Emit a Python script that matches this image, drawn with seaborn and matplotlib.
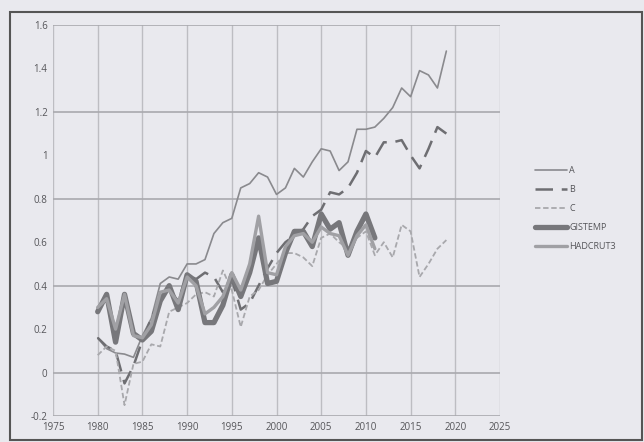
import numpy as np
import pandas as pd
import matplotlib
matplotlib.use("Agg")
import matplotlib.pyplot as plt
import seaborn as sns

years_scen = list(range(1980, 2020))
scen_a = [0.16, 0.11, 0.09, 0.085, 0.07, 0.17, 0.25, 0.41, 0.44, 0.43,
          0.50, 0.50, 0.52, 0.64, 0.69, 0.71, 0.85, 0.87, 0.92, 0.90,
          0.82, 0.85, 0.94, 0.90, 0.97, 1.03, 1.02, 0.93, 0.97, 1.12,
          1.12, 1.13, 1.17, 1.22, 1.31, 1.27, 1.39, 1.37, 1.31, 1.48]
scen_b = [0.16, 0.12, 0.10, -0.05, 0.03, 0.15, 0.25, 0.35, 0.38, 0.33,
          0.45, 0.43, 0.46, 0.44, 0.37, 0.43, 0.29, 0.32, 0.40, 0.48,
          0.55, 0.60, 0.63, 0.66, 0.72, 0.75, 0.83, 0.82, 0.85, 0.92,
          1.02, 0.99, 1.06, 1.06, 1.07, 1.00, 0.94, 1.03, 1.13, 1.10]
scen_c = [0.08, 0.12, 0.10, -0.15, 0.04, 0.05, 0.13, 0.12, 0.28, 0.30,
          0.32, 0.36, 0.37, 0.35, 0.47, 0.38, 0.21, 0.35, 0.38, 0.45,
          0.50, 0.55, 0.55, 0.53, 0.49, 0.62, 0.64, 0.60, 0.57, 0.62,
          0.65, 0.54, 0.60, 0.53, 0.68, 0.65, 0.44, 0.50, 0.57, 0.61]
years_obs = list(range(1980, 2012))
gistemp = [0.28, 0.36, 0.14, 0.36, 0.18, 0.15, 0.19, 0.33, 0.40, 0.29,
           0.45, 0.42, 0.23, 0.23, 0.31, 0.45, 0.35, 0.46, 0.62, 0.41,
           0.42, 0.55, 0.65, 0.65, 0.58, 0.73, 0.66, 0.69, 0.54, 0.65,
           0.73, 0.62]
hadcrut3 = [0.30, 0.34, 0.20, 0.36, 0.17, 0.16, 0.22, 0.37, 0.38, 0.32,
            0.44, 0.40, 0.27, 0.30, 0.35, 0.46, 0.38, 0.50, 0.72, 0.46,
            0.45, 0.58, 0.63, 0.64, 0.60, 0.67, 0.64, 0.63, 0.54, 0.63,
            0.68, 0.57]

x_ticks = [1975, 1980, 1985, 1990, 1995, 2000, 2005, 2010, 2015, 2020, 2025]
y_ticks = [-0.2, 0, 0.2, 0.4, 0.6, 0.8, 1, 1.2, 1.4, 1.6]
y_tick_labels = ["-0.2", "0", "0.2", "0.4", "0.6", "0.8", "1", "1.2", "1.4", "1.6"]
y_grid = [0, 0.4, 0.8, 1.2, 1.6]

bg = "#e9e9ee"
sns.set_theme(style="white")
plt.rcParams['font.family'] = ['Open Sans', 'DejaVu Sans']

fig = plt.figure(figsize=(6.44, 4.42), dpi=100, facecolor=bg)
ax = fig.add_axes([53/644, 1 - 416/442, (500-53)/644, (416-25)/442])
ax.set_facecolor(bg)

# outer frame
fig.patches.append(plt.Rectangle((10/644, 2/442), 632/644, 428/442, transform=fig.transFigure,
                                 fill=False, edgecolor="#555555", linewidth=1.5))

df_s = pd.DataFrame({"year": years_scen, "A": scen_a, "B": scen_b, "C": scen_c})
df_o = pd.DataFrame({"year": years_obs, "GISTEMP": gistemp, "HADCRUT3": hadcrut3})

sns.lineplot(data=df_s, x="year", y="A", ax=ax, color="#8a8a8e", linewidth=1.2, label="A")
sns.lineplot(data=df_s, x="year", y="B", ax=ax, color="#6e6e72", linewidth=1.8,
             label="B").lines[-1].set_dashes([7, 3.5])
sns.lineplot(data=df_s, x="year", y="C", ax=ax, color="#a8a8ac", linewidth=1.3,
             label="C").lines[-1].set_dashes([3, 1.5])
sns.lineplot(data=df_o, x="year", y="GISTEMP", ax=ax, color="#77777b", linewidth=3.8, label="GISTEMP")
sns.lineplot(data=df_o, x="year", y="HADCRUT3", ax=ax, color="#a0a0a4", linewidth=2.4, label="HADCRUT3")

ax.set_xlim(1975, 2025)
ax.set_ylim(-0.2, 1.6)
ax.set_xticks(x_ticks)
ax.set_xticklabels([str(v) for v in x_ticks])
ax.set_yticks(y_ticks)
ax.set_yticklabels(y_tick_labels)
ax.set_xlabel("")
ax.set_ylabel("")
for xv in x_ticks:
    ax.axvline(xv, color="#bdbdc2", linewidth=1.0, zorder=0)
for yv in y_grid:
    ax.axhline(yv, color="#a9a9ae", linewidth=1.2, zorder=0)
for s in ax.spines.values():
    s.set_visible(False)
ax.axhline(-0.2, color="#a9a9ae", linewidth=1.2, zorder=0)
ax.tick_params(axis="both", labelsize=7, labelcolor="#555559", length=0, pad=4)

leg = ax.legend(loc="center left", bbox_to_anchor=(1.06, 0.53), frameon=False,
                fontsize=6.5, handlelength=3.6, handletextpad=0.2, labelspacing=1.1)
for t in leg.get_texts():
    t.set_color("#555559")

fig.savefig("out.png", dpi=100, facecolor=bg)
